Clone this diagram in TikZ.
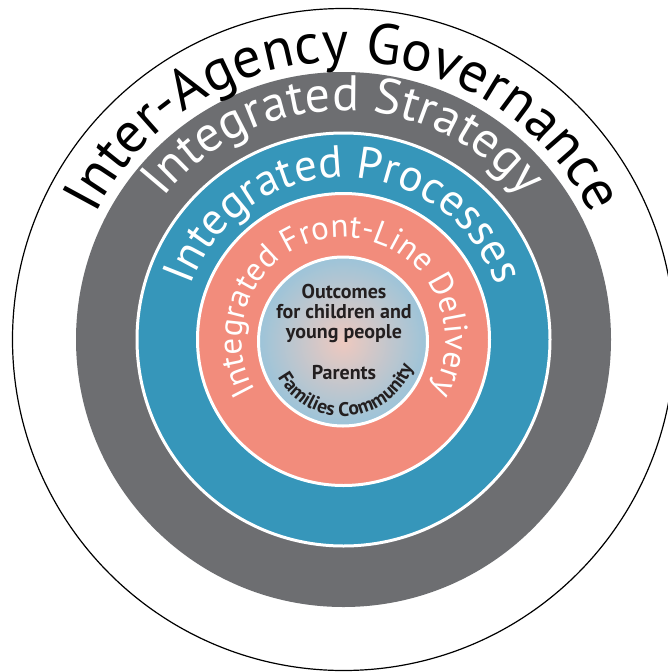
\documentclass[tikz,border=0pt]{standalone}
\usepackage{fontspec}
\setmainfont{PT Sans}
\usetikzlibrary{decorations.text}
\definecolor{ringgray}{HTML}{6D6E71}
\definecolor{ringblue}{HTML}{3696BA}
\definecolor{ringsalmon}{HTML}{F28C7C}
\definecolor{corepink}{HTML}{EEC9BF}
\definecolor{coreblue}{HTML}{9CC4D9}
\definecolor{inktext}{HTML}{231F20}
\tikzset{
  ringborder/.style={draw=white, line width=3pt},
  arctext/.style 2 args={decorate, decoration={text along path, text align=center, text color=#1, text={#2}}},
  coretext/.style={font=\bfseries\fontsize{20}{20}\selectfont, text=inktext, align=center, inner sep=0pt}
}
\begin{document}
\begin{tikzpicture}[x=1pt,y=1pt]
\useasboundingbox (0,0) rectangle (668,-672);
\clip (0,0) rectangle (668,-672);
\coordinate (C) at (343.5,-339.5);
\coordinate (K) at (343,-341.5);
% rings
\draw[line width=1.2pt, fill=white] (C) circle (331);
\fill[ringgray] (C) circle (267.5);
\fill[ringblue, ringborder] (C) circle (206.5);
\fill[ringsalmon, ringborder] (C) circle (146);
\shade[inner color=corepink, outer color=coreblue] (K) circle (84.5);
\draw[ringborder] (K) circle (84.5);
% curved labels
\path[arctext={black}{|\fontsize{57}{66}\selectfont|Inter-Agency Governance}]
  (C) ++(175:278) arc[start angle=175, end angle=5, radius=278];
\path[arctext={white}{|\fontsize{50}{60}\selectfont|Integrated Strategy}]
  (C) ++(175:229) arc[start angle=175, end angle=5, radius=229];
\path[arctext={white}{|\fontsize{45}{54}\selectfont|Integrated Processes}]
  (C) ++(200:162) arc[start angle=200, end angle=-20, radius=162];
\path[arctext={white}{|\fontsize{33}{40}\selectfont|Integrated Front-Line Delivery}]
  (C) ++(240:102) arc[start angle=240, end angle=-60, radius=102];
\path[arctext={inktext}{|\bfseries\fontsize{19.6}{22}\selectfont|Families Community}]
  (K) ++(164.5:74.5) arc[start angle=164.5, end angle=384.5, radius=74.5];
% core text
\node[coretext, anchor=north] (outcomes) at (344,-284) {Outcomes\\for children and\\young people};
\node[coretext, anchor=base] (parents) at (344,-379) {Parents};
\end{tikzpicture}
\end{document}
